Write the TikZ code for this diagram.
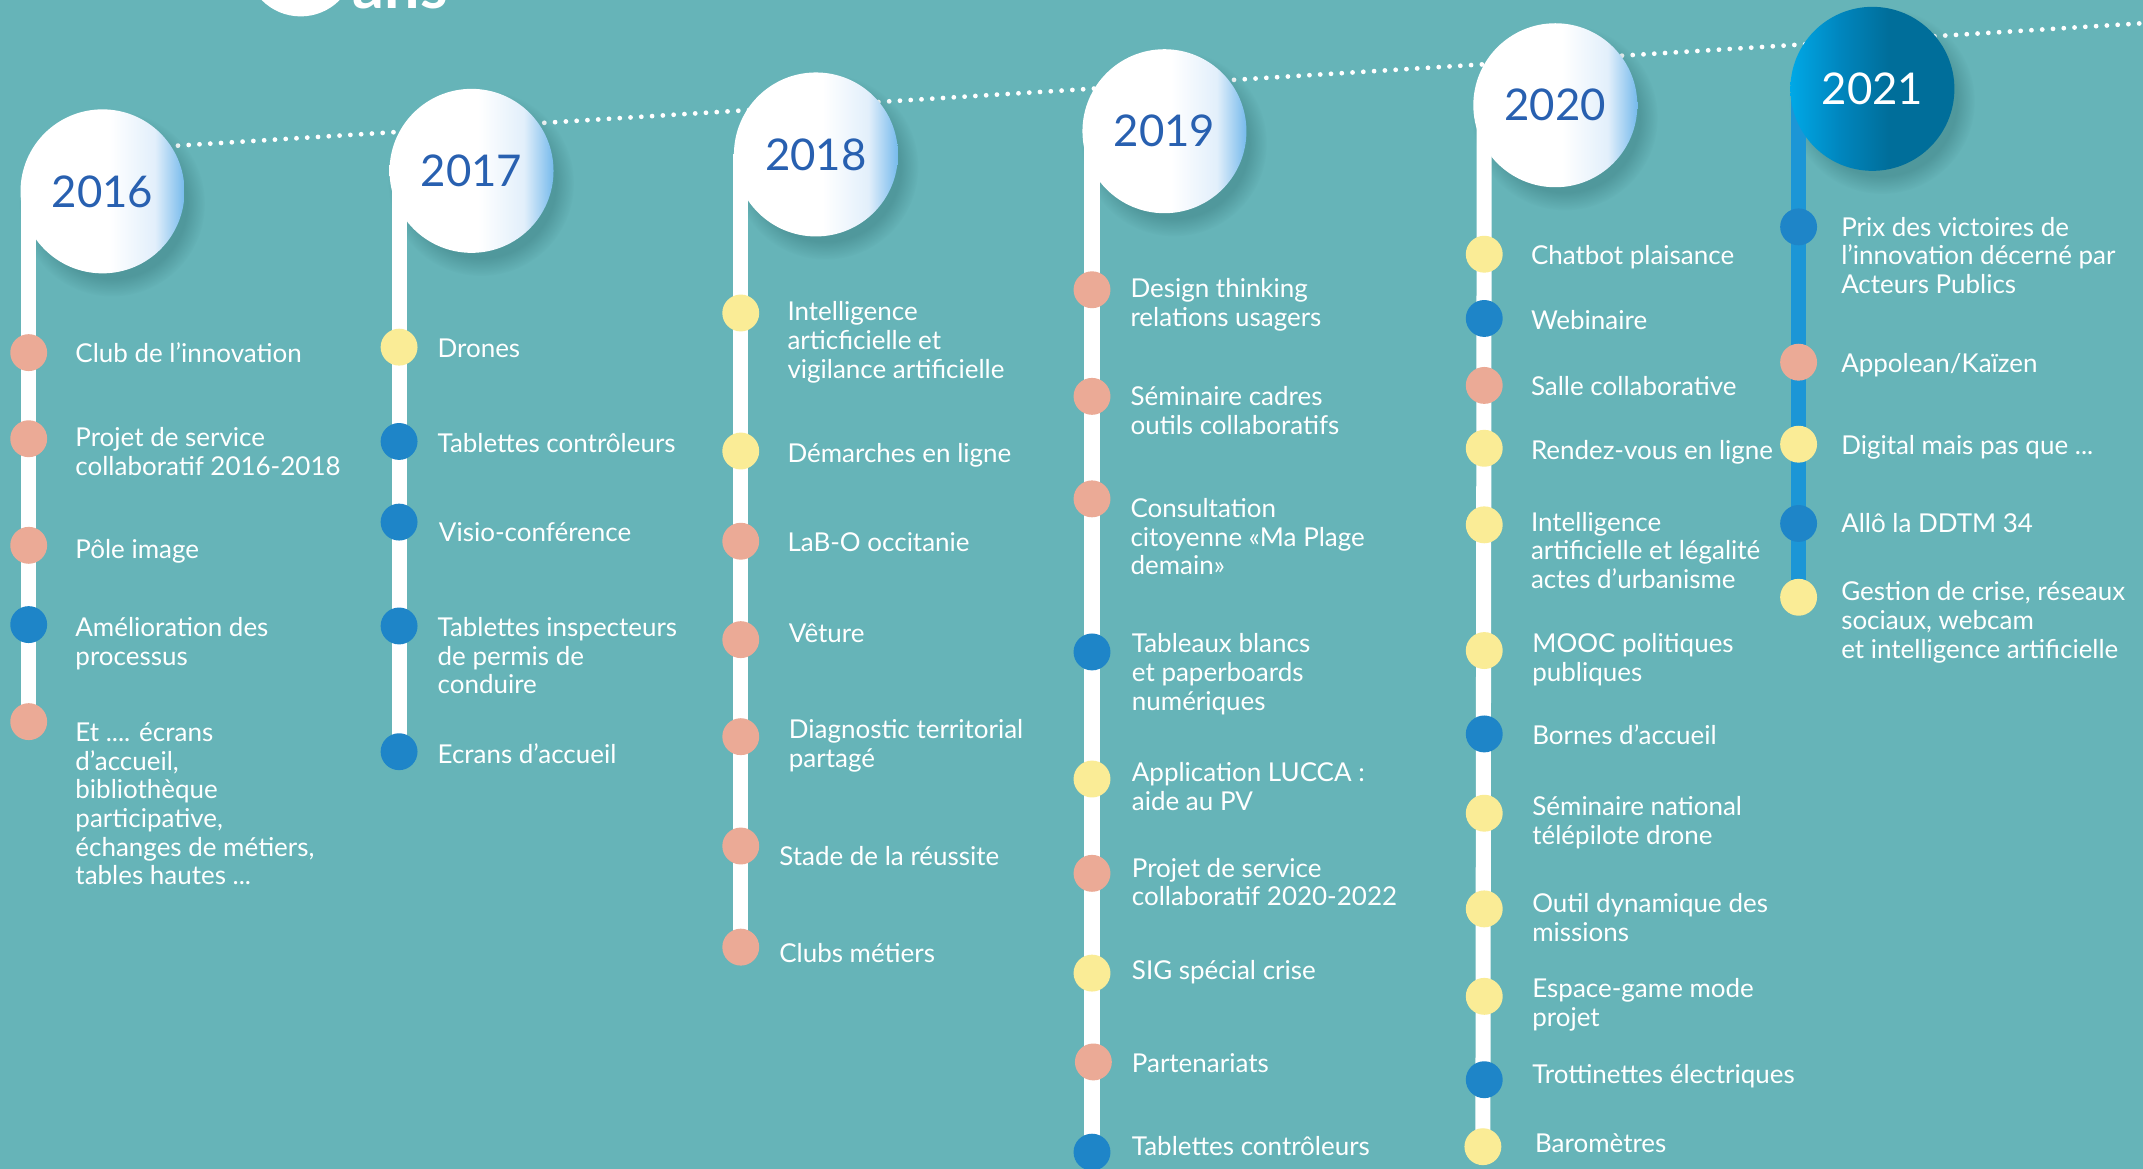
\documentclass[tikz,border=0pt]{standalone}
\usepackage{fontspec}
\setmainfont{Lato}
\usepackage{tikz}
\usetikzlibrary{backgrounds, fadings}
\usepackage{xcolor}

\definecolor{teal bg}{RGB}{102,180,184}
\definecolor{salmonc}{RGB}{235,170,150}
\definecolor{yellowc}{RGB}{250,236,150}
\definecolor{bluec}{RGB}{30,133,200}
\definecolor{stem21}{RGB}{28,150,214}
\definecolor{yeartxt}{RGB}{40,96,176}
\definecolor{ballmid}{RGB}{226,239,251}
\definecolor{ballrim}{RGB}{118,186,236}
\definecolor{nowa}{RGB}{0,168,230}
\definecolor{nowb}{RGB}{0,134,190}
\definecolor{nowc}{RGB}{0,110,154}
\definecolor{shadowc}{RGB}{40,100,104}

\pgfdeclarehorizontalshading{yearball}{100bp}{color(0bp)=(white); color(25bp)=(white); color(52bp)=(white); color(66bp)=(ballmid); color(75bp)=(ballrim); color(100bp)=(ballrim)}
\pgfdeclarehorizontalshading{nowball}{100bp}{color(0bp)=(nowa); color(25bp)=(nowa); color(40bp)=(nowb); color(55bp)=(nowc); color(100bp)=(nowc)}

\begin{document}
\begin{tikzpicture}[
    x=1pt, y=-1pt,
    year/.style={circle, minimum size=120pt, inner sep=0pt, shade, shading=yearball, text=yeartxt, font=\fontsize{32}{32}\selectfont},
    yearnow/.style={year, shading=nowball, text=white},
    dot/.style={circle, minimum size=27pt, inner sep=0pt},
    pk/.style={dot, fill=salmonc},
    yl/.style={dot, fill=yellowc},
    bl/.style={dot, fill=bluec},
    lbl/.style={anchor=north west, inner sep=0pt, yshift=7.5pt, align=left, text=white, font=\fontsize{19}{21}\selectfont, execute at begin node=\strut},
    stem/.style={line width=11pt, white},
    dotline/.style={white, line width=3.5pt, line cap=round, dash pattern=on 0pt off 7.9pt},
    shadow/.style={fill=shadowc, opacity=0.35, path fading=circle with fuzzy edge 20 percent}
]
\useasboundingbox (0,0) rectangle (1568,855);
\clip (0,0) rectangle (1568,855);

% title, cut at the top
\node[circle, fill=white, minimum size=80pt, inner sep=0pt] (numdisc) at (220,-28) {};
\node[anchor=base west, inner sep=0pt, text=white, font=\bfseries\fontsize{46}{46}\selectfont] (titre) at (258,6) {ans};

% years
\node[year] (y16) at (75,140) {2016};
\node[year] (y17) at (345,125) {2017};
\node[year] (y18) at (597,113) {2018};
\node[year] (y19) at (852,96) {2019};
\node[year] (y20) at (1138,77) {2020};
\node[yearnow] (y21) at (1370,65) {2021};
\coordinate (dotstart) at (75,110);
\coordinate (dotend) at (1568,17);

% 2016
\node[pk] (a1) at (21,258) {};
\node[lbl] (a1t) at (55,258) {Club de l’innovation};
\node[pk] (a2) at (21,321) {};
\node[lbl] (a2t) at (55,320) {Projet de service\\collaboratif 2016-2018};
\node[pk] (a3) at (21,399) {};
\node[lbl] (a3t) at (55,401) {Pôle image};
\node[bl] (a4) at (21,457) {};
\node[lbl] (a4t) at (55,459) {Amélioration des\\processus};
\node[pk] (a5) at (21,528) {};
\node[lbl] (a5t) at (55,536) {Et .... écrans\\d’accueil,\\bibliothèque\\participative,\\échanges de métiers,\\tables hautes ...};

% 2017
\node[yl] (b1) at (292,254) {};
\node[lbl] (b1t) at (320,254) {Drones};
\node[bl] (b2) at (292,323) {};
\node[lbl] (b2t) at (320,324) {Tablettes contrôleurs};
\node[bl] (b3) at (292,382) {};
\node[lbl] (b3t) at (321,389) {Visio-conférence};
\node[bl] (b4) at (292,458) {};
\node[lbl] (b4t) at (320,459) {Tablettes inspecteurs\\de permis de\\conduire};
\node[bl] (b5) at (292,550) {};
\node[lbl] (b5t) at (320,551) {Ecrans d’accueil};

% 2018
\node[yl] (c1) at (542,229) {};
\node[lbl] (c1t) at (576,228) {Intelligence\\articficielle et\\vigilance artificielle};
\node[yl] (c2) at (542,330) {};
\node[lbl] (c2t) at (576,331) {Démarches en ligne};
\node[pk] (c3) at (542,396) {};
\node[lbl] (c3t) at (576,396) {LaB-O occitanie};
\node[pk] (c4) at (542,468) {};
\node[lbl] (c4t) at (577,463) {Vêture};
\node[pk] (c5) at (542,539) {};
\node[lbl] (c5t) at (577,534) {Diagnostic territorial\\partagé};
\node[pk] (c6) at (542,619) {};
\node[lbl] (c6t) at (570,626) {Stade de la réussite};
\node[pk] (c7) at (542,693) {};
\node[lbl] (c7t) at (570,697) {Clubs métiers};

% 2019
\node[pk] (d1) at (799,212) {};
\node[lbl] (d1t) at (827,211) {Design thinking\\relations usagers};
\node[pk] (d2) at (799,290) {};
\node[lbl] (d2t) at (827,290) {Séminaire cadres\\outils collaboratifs};
\node[pk] (d3) at (799,365) {};
\node[lbl] (d3t) at (827,372) {Consultation\\citoyenne «Ma Plage\\demain»};
\node[bl] (d4) at (799,477) {};
\node[lbl] (d4t) at (828,471) {Tableaux blancs\\et paperboards\\numériques};
\node[yl] (d5) at (799,570) {};
\node[lbl] (d5t) at (828,565) {Application LUCCA :\\aide au PV};
\node[pk] (d6) at (799,639) {};
\node[lbl] (d6t) at (828,635) {Projet de service\\collaboratif 2020-2022};
\node[yl] (d7) at (799,712) {};
\node[lbl] (d7t) at (828,709) {SIG spécial crise};
\node[pk] (d8) at (800,777) {};
\node[lbl] (d8t) at (828,777) {Partenariats};
\node[bl] (d9) at (799,843) {};
\node[lbl] (d9t) at (828,838) {Tablettes contrôleurs};

% 2020
\node[yl] (e1) at (1086,186) {};
\node[lbl] (e1t) at (1120,186) {Chatbot plaisance};
\node[bl] (e2) at (1086,233) {};
\node[lbl] (e2t) at (1120,234) {Webinaire};
\node[pk] (e3) at (1086,282) {};
\node[lbl] (e3t) at (1120,282) {Salle collaborative};
\node[yl] (e4) at (1086,328) {};
\node[lbl] (e4t) at (1120,329) {Rendez-vous en ligne};
\node[yl] (e5) at (1086,384) {};
\node[lbl] (e5t) at (1120,382) {Intelligence\\artificielle et légalité\\actes d’urbanisme};
\node[yl] (e6) at (1086,476) {};
\node[lbl] (e6t) at (1121,471) {MOOC politiques\\publiques};
\node[bl] (e7) at (1086,537) {};
\node[lbl] (e7t) at (1121,537) {Bornes d’accueil};
\node[yl] (e8) at (1086,595) {};
\node[lbl] (e8t) at (1121,590) {Séminaire national\\télépilote drone};
\node[yl] (e9) at (1086,665) {};
\node[lbl] (e9t) at (1121,661) {Outil dynamique des\\missions};
\node[yl] (e10) at (1086,729) {};
\node[lbl] (e10t) at (1121,723) {Espace-game mode\\projet};
\node[bl] (e11) at (1086,790) {};
\node[lbl] (e11t) at (1121,785) {Trottinettes électriques};
\node[yl] (e12) at (1085,839) {};
\node[lbl] (e12t) at (1123,836) {Baromètres};

% 2021
\node[bl] (f1) at (1316,166) {};
\node[lbl] (f1t) at (1347,166) {Prix des victoires de\\l’innovation décerné par\\Acteurs Publics};
\node[pk] (f2) at (1316,265) {};
\node[lbl] (f2t) at (1347,265) {Appolean/Kaïzen};
\node[yl] (f3) at (1316,325) {};
\node[lbl] (f3t) at (1347,325) {Digital mais pas que ...};
\node[bl] (f4) at (1316,383) {};
\node[lbl] (f4t) at (1347,382) {Allô la DDTM 34};
\node[yl] (f5) at (1316,437) {};
\node[lbl] (f5t) at (1347,433) {Gestion de crise, réseaux\\sociaux, webcam\\et intelligence artificielle};

\begin{scope}[on background layer]
\fill[teal bg] (0,0) rectangle (1568,855);
\draw[dotline] (dotstart) -- (dotend);
\foreach \yr in {y16,y17,y18,y19,y20,y21}
  \fill[shadow] ([shift={(7,9)}]\yr.center) circle (68);
\draw[stem] (a1 |- y16.center) -- (a5.center);
\draw[stem] (b1 |- y17.center) -- (b5.center);
\draw[stem] (c1 |- y18.center) -- (c7.center);
\draw[stem] (d1 |- y19.center) -- (d9.center);
\draw[stem] (e1 |- y20.center) -- (e12.center);
\draw[stem, stem21] (f1 |- y21.center) -- (f5.center);
\end{scope}

\end{tikzpicture}
\end{document}
